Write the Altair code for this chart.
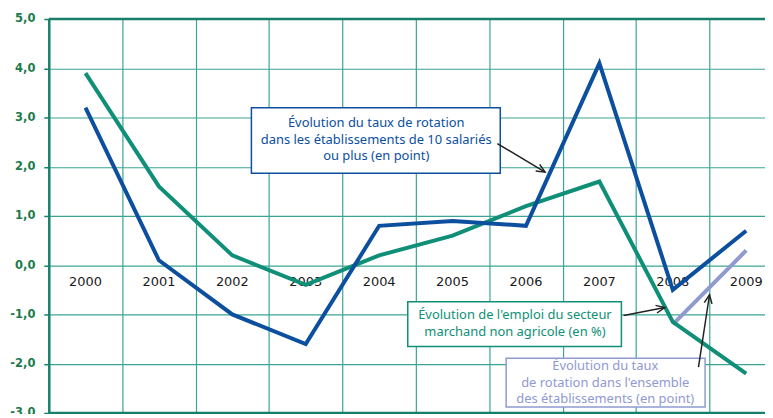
import altair as alt
import pandas as pd

years = [2000, 2001, 2002, 2003, 2004, 2005, 2006, 2007, 2008, 2009]
rotation_10plus = [3.2, 0.1, -1.0, -1.6, 0.8, 0.9, 0.8, 4.1, -0.5, 0.7]
emploi = [3.9, 1.6, 0.2, -0.4, 0.2, 0.6, 1.2, 1.7, -1.15, -2.2]
ensemble_years = [2008, 2009]
ensemble = [-1.2, 0.3]
y_ticks = [-3, -2, -1, 0, 1, 2, 3, 4, 5]
x_grid = [2000.5, 2001.5, 2002.5, 2003.5, 2004.5, 2005.5, 2006.5, 2007.5, 2008.5]

BLUE = "#0c4f9e"
GREEN = "#0f8f77"
PURPLE = "#8f9ad0"
GRID = "#3aa594"
AXIS = "#17806a"
LABEL = "#1b7a4c"

ann_texts = [
    "Évolution du taux de rotation\ndans les établissements de 10 salariés\nou plus (en point)",
    "Évolution de l'emploi du secteur\nmarchand non agricole (en %)",
    "Évolution du taux\nde rotation dans l'ensemble\ndes établissements (en point)",
]
ann_colors = [BLUE, GREEN, PURPLE]
box_x1 = [2002.26, 2004.39, 2005.73]
box_x2 = [2005.65, 2007.30, 2008.44]
box_y1 = [3.20, -0.74, -1.89]
box_y2 = [1.87, -1.65, -2.88]
txt_x = [2003.96, 2005.85, 2007.08]
txt_y = [2.88, -1.02, -2.05]
arr_x1 = [2005.61, 2007.33, 2008.35]
arr_y1 = [2.47, -1.02, -2.07]
arr_x2 = [2006.26, 2007.89, 2008.50]
arr_y2 = [1.89, -0.86, -0.60]
arr_angle = [121, 79, 9]

xscale = alt.Scale(domain=[1999.5, 2009.256], nice=False, zero=False)
yscale = alt.Scale(domain=[-3, 5], nice=False, zero=False)

df_blue = pd.DataFrame({"year": years, "v": rotation_10plus})
df_green = pd.DataFrame({"year": years, "v": emploi})
df_purple = pd.DataFrame({"year": ensemble_years, "v": ensemble})
df_years = pd.DataFrame({"year": years, "v": [0] * len(years), "label": [str(y) for y in years]})
df_ann = pd.DataFrame({
    "text": ann_texts, "color": ann_colors,
    "x1": box_x1, "x2": box_x2, "y1": box_y1, "y2": box_y2,
    "tx": txt_x, "ty": txt_y,
    "ax1": arr_x1, "ay1": arr_y1, "ax2": arr_x2, "ay2": arr_y2, "ang": arr_angle,
})

base_x = alt.X("year:Q", scale=xscale, axis=alt.Axis(
    values=x_grid, labels=False, ticks=False, domain=False, grid=True,
    gridColor=GRID, gridWidth=1.2, title=None))
base_y = alt.Y("v:Q", scale=yscale, axis=alt.Axis(
    values=y_ticks, grid=True, gridColor=GRID, gridWidth=1.2, title=None,
    domainColor=AXIS, domainWidth=2.5, tickColor=AXIS, tickSize=5, tickWidth=1.5,
    labelFont="DejaVu Sans", labelFontWeight="bold", labelFontSize=11.5,
    labelColor=LABEL, labelPadding=9,
    labelExpr="(datum.value < 0 ? '-' : '') + replace(format(abs(datum.value), '.1f'), '.', ',')"))

grid_layer = alt.Chart(df_blue).mark_line(opacity=0).encode(x=base_x, y=base_y)

frame = alt.Chart(pd.DataFrame({"v": [5, -3]})).mark_rule(color=AXIS, strokeWidth=2.5).encode(
    y=alt.Y("v:Q", scale=yscale))

year_text = alt.Chart(df_years).mark_text(
    font="DejaVu Sans", fontSize=13, color="#1a1a1a", dy=17, baseline="middle"
).encode(x=alt.X("year:Q", scale=xscale), y=alt.Y("v:Q", scale=yscale), text="label:N")

def series(df, color):
    return alt.Chart(df).mark_line(color=color, strokeWidth=4, strokeJoin="miter", strokeCap="butt").encode(
        x=alt.X("year:Q", scale=xscale), y=alt.Y("v:Q", scale=yscale))

boxes = alt.Chart(df_ann).mark_rect(fill="white", strokeWidth=1.5).encode(
    x=alt.X("x1:Q", scale=xscale), x2="x2:Q",
    y=alt.Y("y1:Q", scale=yscale), y2="y2:Q",
    stroke=alt.Color("color:N", scale=None))

texts = alt.Chart(df_ann).mark_text(
    font="Noto Sans", fontSize=13, lineBreak="\n", lineHeight=16.5, align="center", baseline="middle"
).encode(
    x=alt.X("tx:Q", scale=xscale), y=alt.Y("ty:Q", scale=yscale),
    text="text:N", color=alt.Color("color:N", scale=None))

arrows = alt.Chart(df_ann).mark_rule(color="#222222", strokeWidth=1.5).encode(
    x=alt.X("ax1:Q", scale=xscale), x2="ax2:Q",
    y=alt.Y("ay1:Q", scale=yscale), y2="ay2:Q")

heads = alt.Chart(df_ann).mark_point(
    shape="M-0.45,1L0,0L0.45,1", filled=False, color="#222222", strokeWidth=1.5, size=300, opacity=1
).encode(
    x=alt.X("ax2:Q", scale=xscale), y=alt.Y("ay2:Q", scale=yscale),
    angle=alt.Angle("ang:Q", scale=None))

chart = alt.layer(
    grid_layer, frame, year_text,
    series(df_purple, PURPLE), series(df_green, GREEN), series(df_blue, BLUE),
    boxes, texts, arrows, heads
).properties(
    width=720, height=396,
    autosize=alt.AutoSizeParams(type="none"),
    padding={"left": 41, "top": 10, "right": 0, "bottom": 0},
).configure_view(stroke=None)

chart.save("out.html", embed_options={"renderer": "svg", "actions": False})
